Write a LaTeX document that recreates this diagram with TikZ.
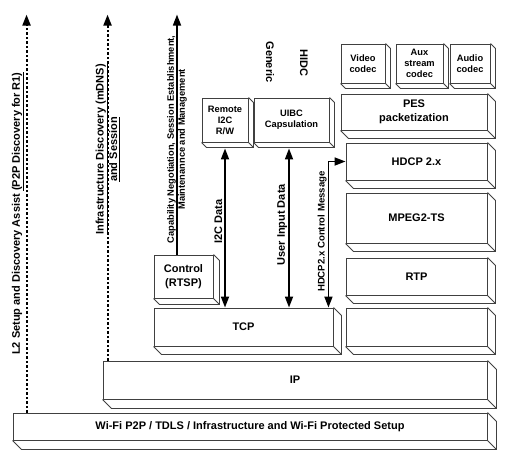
\documentclass[tikz,border=0pt]{standalone}
\usepackage{fontspec}
\setmainfont{Liberation Sans}
\usetikzlibrary{arrows.meta}

% side and bottom faces of a layer box
\newcommand{\extrude}[2]{%
  \draw[side] (#1.south west) -- ++(#2,#2) -| ([shift={(#2,#2)}]#1.north east) -- (#1.north east)
    (#1.south east) -- ++(#2,#2);}

\begin{document}
\begin{tikzpicture}[x=1pt, y=-1pt, >={Triangle[length=11pt,width=8pt]},
  every node/.style={font=\bfseries\fontsize{11}{13.5}\selectfont},
  layer/.style={draw=black!75, line width=0.9pt, fill=white, align=center, inner sep=1pt},
  small/.style={font=\bfseries\fontsize{9.3}{11}\selectfont},
  side/.style={draw=black!75, line width=0.9pt},
  link/.style={line width=1.7pt},
  probe/.style={line width=2pt, dash pattern=on 2.5pt off 2pt}]
\useasboundingbox (0,0) rectangle (505,458);

% stack
\node[layer, minimum width=474, minimum height=27] (wifi) at (250,426.5) {Wi-Fi P2P / TDLS / Infrastructure and Wi-Fi Protected Setup};
\node[layer, minimum width=384, minimum height=38] (ip) at (295,380) {IP};
\node[layer, minimum width=179, minimum height=38] (tcp) at (243.5,327) {TCP};
\node[layer, minimum width=141, minimum height=38] (blank) at (416.5,327) {};
\node[layer, minimum width=141, minimum height=37] (rtp) at (416.5,276.5) {RTP};
\node[layer, minimum width=141, minimum height=50] (mpeg) at (416.5,218) {MPEG2-TS};
\node[layer, minimum width=141, minimum height=37] (hdcp) at (416.5,161.5) {HDCP 2.x};
\node[layer, minimum width=146, minimum height=36] (pes) at (414,112) {PES\\packetization};
\node[layer, small, minimum width=44, minimum height=39] (video) at (363,63.5) {Video\\codec};
\node[layer, small, minimum width=47, minimum height=39] (aux) at (419.5,63.5) {Aux\\stream\\codec};
\node[layer, small, minimum width=40, minimum height=39] (audio) at (470,63.5) {Audio\\codec};
\node[layer, minimum width=59, minimum height=43] (ctrl) at (183.5,276.5) {Control\\(RTSP)};
\node[layer, small, minimum width=46, minimum height=44] (i2c) at (225,120) {Remote\\I2C\\R/W};
\node[layer, small, minimum width=75, minimum height=44] (uibc) at (291.5,120) {UIBC\\Capsulation};

\extrude{wifi}{9}
\extrude{ip}{9}
\extrude{tcp}{8}
\extrude{blank}{8}
\extrude{rtp}{8}
\extrude{mpeg}{8}
\extrude{hdcp}{8}
\extrude{pes}{8}
\extrude{video}{5}
\extrude{aux}{5}
\extrude{audio}{5}
\extrude{ctrl}{6}
\extrude{i2c}{5}
\extrude{uibc}{5}

\node[rotate=-90] (generic) at (270,62) {Generic};
\node[rotate=-90] (hidc) at (304,63) {HIDC};

% discovery and control paths
\draw[probe, ->] ([xshift=14pt]wifi.north west) -- ++(0,-398)
  node[pos=0.5, sloped, above, inner sep=1.5pt] {L2 Setup and Discovery Assist \underline{(P2P Discovery for R1)}};
\draw[probe, ->] ([xshift=5pt]ip.north west) -- ++(0,-346)
  node[pos=0.61, sloped, align=center, inner sep=0pt] {\underline{Infrastructure Discovery (mDNS)}\\\underline{and Session}};
\draw[link, ->] ([xshift=-6.5pt]ctrl.north) -- ++(0,-240)
  node[pos=0.48, sloped, align=center, inner sep=0pt, font=\bfseries\fontsize{9.3}{11}\selectfont] {Capability Negotiation, Session Establishment,\\Maintenannce and Management};

% data paths
\draw[link, <->] (i2c.south |- tcp.north) -- ([yshift=-6pt]i2c.south)
  node[pos=0.54, sloped, above, inner sep=2pt] {I2C Data};
\draw[link, <->] ([xshift=-2.5pt]uibc.south |- tcp.north) -- ([xshift=-2.5pt,yshift=-6pt]uibc.south)
  node[pos=0.52, sloped, above, inner sep=1pt] {User Input Data};
\draw[link, <->] ([xshift=-5pt]tcp.north east) --
  node[pos=0.52, sloped, above, inner sep=1pt, font=\bfseries\fontsize{9.6}{11}\selectfont] {HDCP2.x Control Message}
  ([xshift=-5pt]tcp.north east |- hdcp.west) -- (hdcp.west);
\end{tikzpicture}
\end{document}
